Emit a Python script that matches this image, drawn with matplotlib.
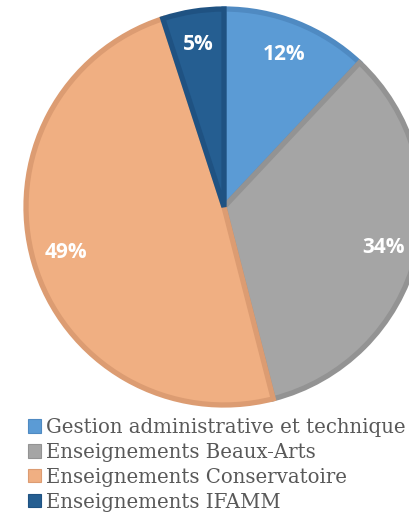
import matplotlib
matplotlib.use('Agg')
import matplotlib.pyplot as plt
from matplotlib.patches import Patch

# data
categories = ['Gestion administrative et technique', 'Enseignements Beaux-Arts',
              'Enseignements Conservatoire', 'Enseignements IFAMM']
values = [12, 34, 49, 5]
fill_colors = ['#5B9BD5', '#A5A5A5', '#F0AF82', '#255E91']
edge_colors = ['#4F8AC2', '#939393', '#DC9C72', '#1F5282']

W, H = 409, 519
fig = plt.figure(figsize=(W / 100, H / 100), dpi=100)

# pie axes placed in pixel coords: center (225, 207), radius ~200
cx, cy, r = 224, 207, 201
ax = fig.add_axes([(cx - r) / W, (H - cy - r) / H, 2 * r / W, 2 * r / H])

wedges, texts, autotexts = ax.pie(values, colors=fill_colors, startangle=90, counterclock=False,
                                  radius=0.985, autopct='%.0f%%', pctdistance=0.83,
                                  wedgeprops={'linewidth': 3.8},
                                  textprops={'color': 'white', 'fontsize': 15, 'fontweight': 'bold',
                                             'family': 'Open Sans'})
for w, ec in zip(wedges, edge_colors):
    w.set_edgecolor(ec)
    w.set_clip_on(False)
ax.set_xlim(-1, 1)
ax.set_ylim(-1, 1)
ax.set_aspect('equal')
ax.axis('off')

# legend
handles = [Patch(facecolor=c, edgecolor=e, linewidth=0.8) for c, e in zip(fill_colors, edge_colors)]
fig.legend(handles, categories, loc='upper left', bbox_to_anchor=(28 / W, 1 - 418 / H),
           frameon=False, handlelength=0.65, handleheight=0.65,
           handletextpad=0.25, labelspacing=0.3, borderpad=0, borderaxespad=0,
           labelcolor='#595959', prop={'family': 'DejaVu Serif', 'size': 14.2})

fig.savefig('out.png', dpi=100)
